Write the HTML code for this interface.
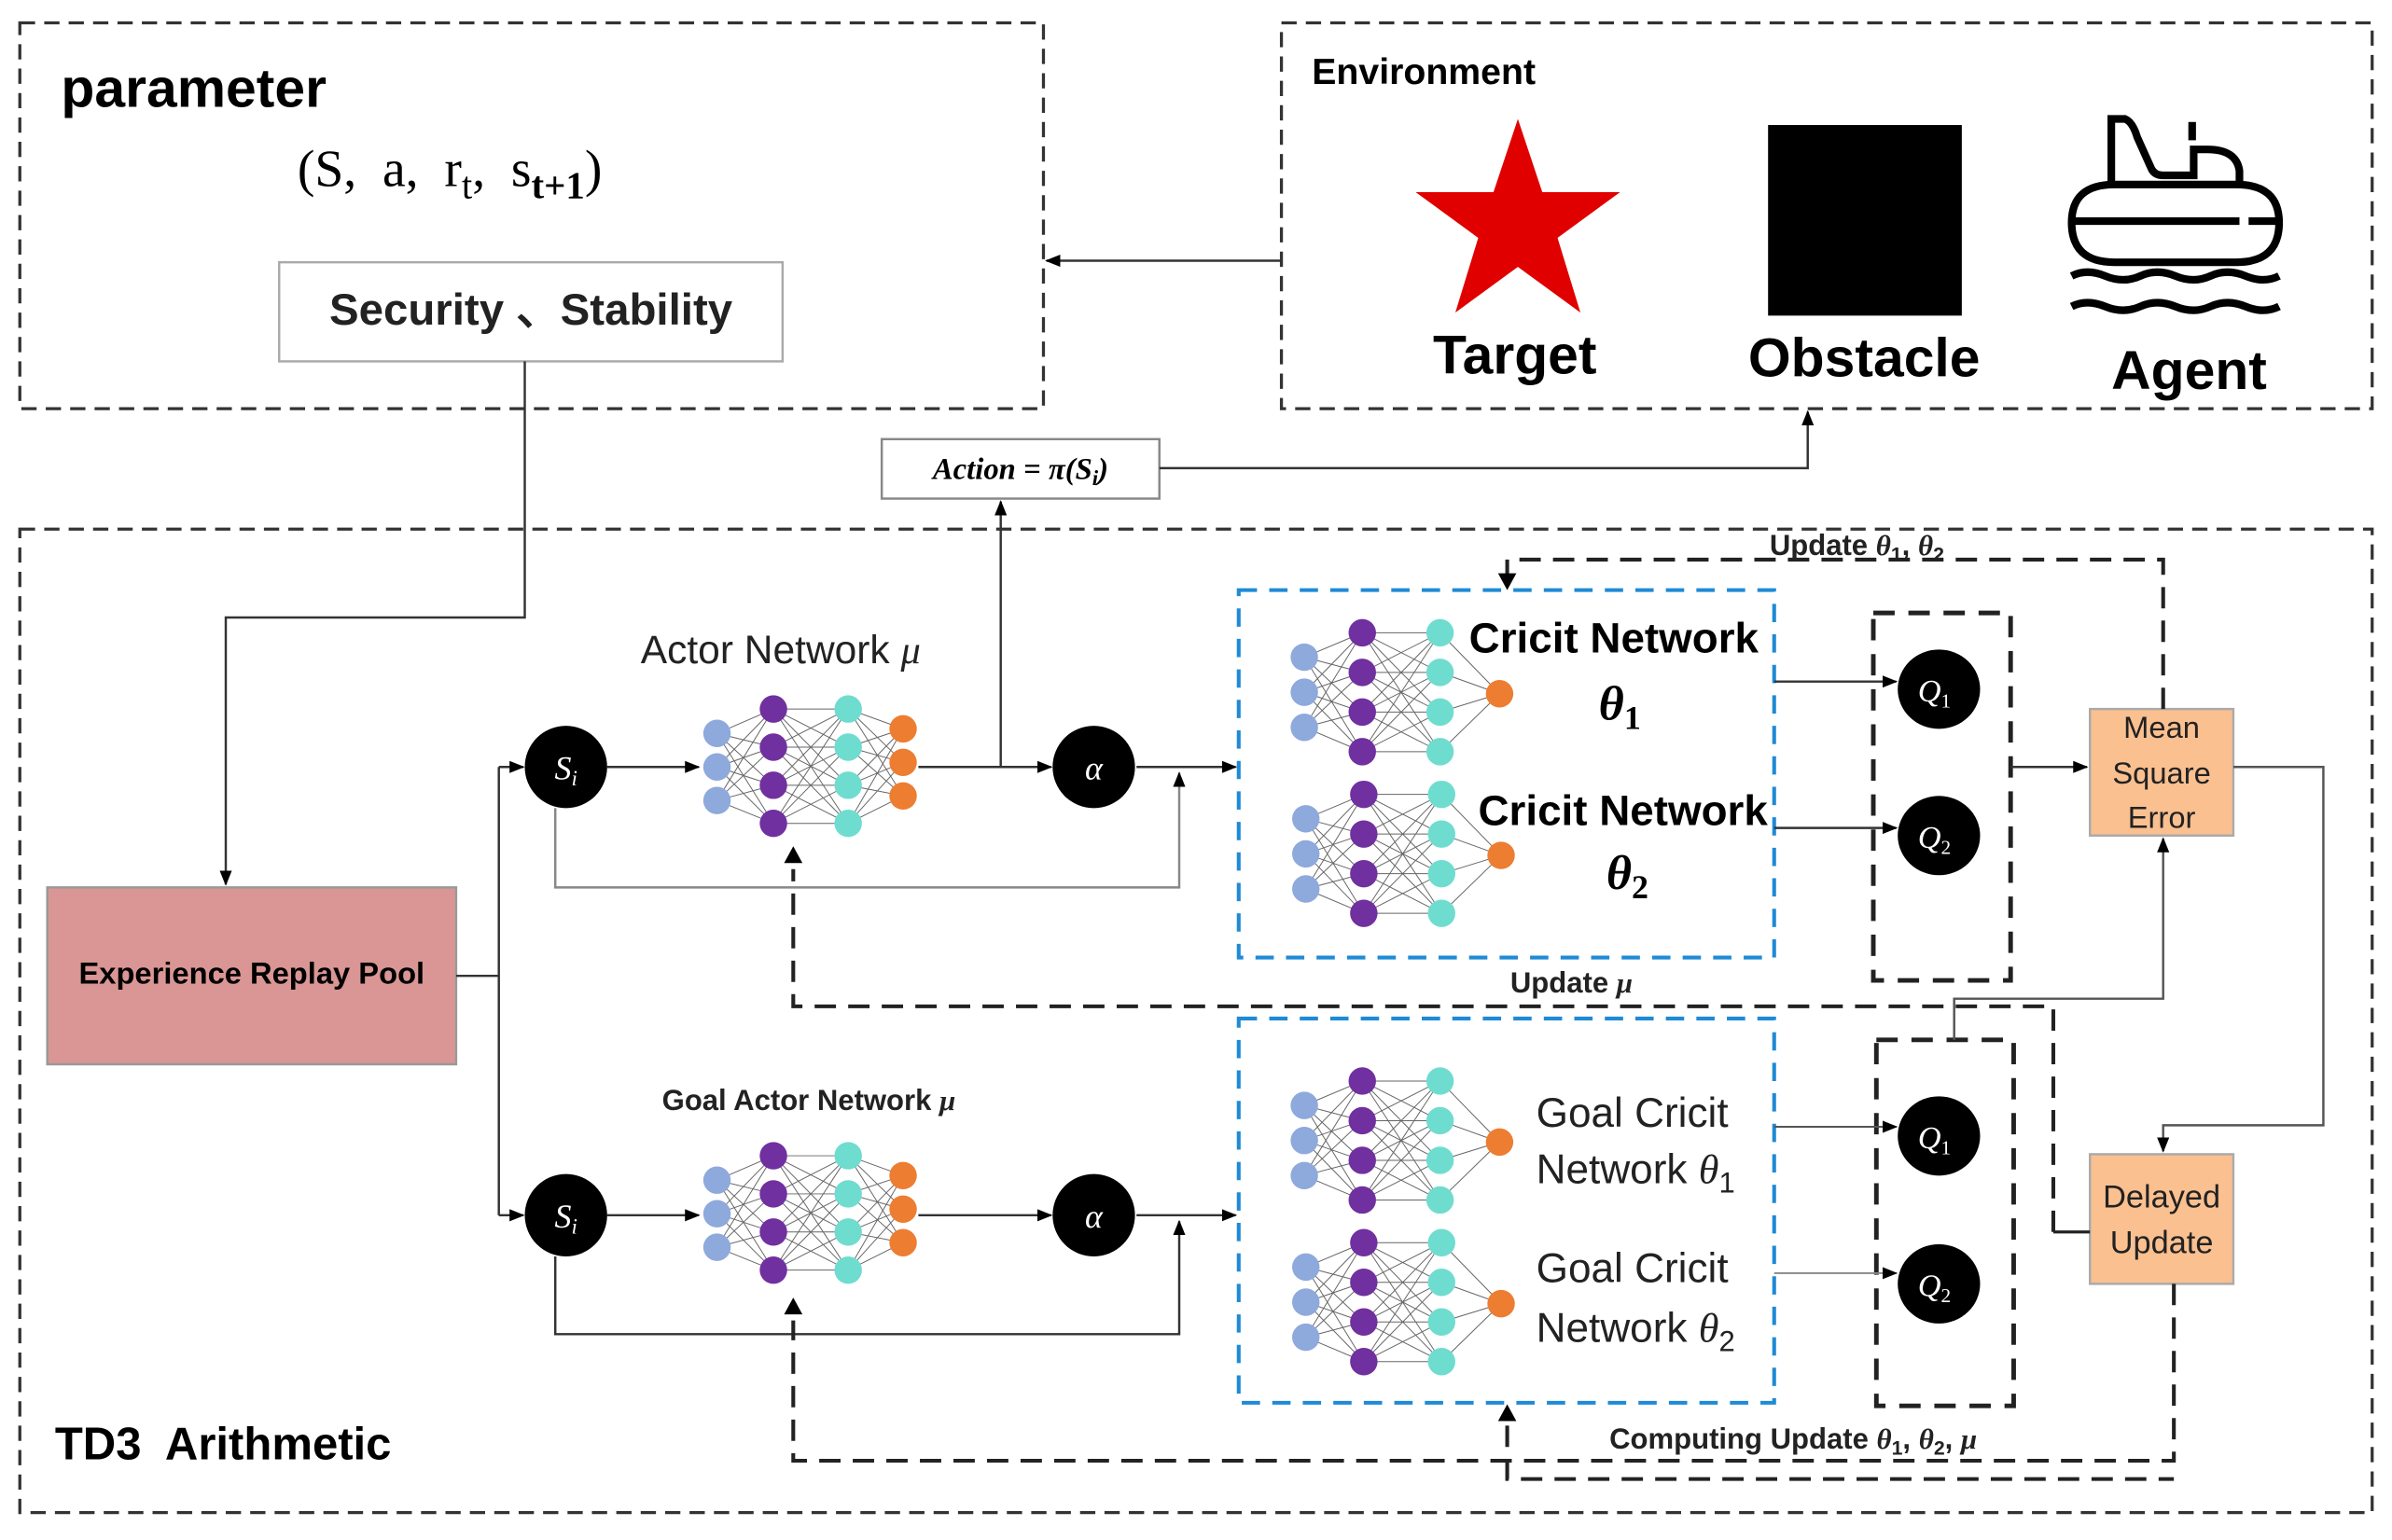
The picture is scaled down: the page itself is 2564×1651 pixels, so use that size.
<!DOCTYPE html>
<html><head><meta charset="utf-8"><style>
html,body{margin:0;padding:0;background:#fff;overflow:hidden}
svg{display:block;font-family:"Liberation Sans",sans-serif}
</style></head><body>
<svg width="2564" height="1651" viewBox="0 0 1568 1010" preserveAspectRatio="none" xmlns="http://www.w3.org/2000/svg">
<defs>
<marker id="ar" markerWidth="10" markerHeight="8" refX="9" refY="4" orient="auto" markerUnits="userSpaceOnUse"><path d="M0,0 L10,4 L0,8 z" fill="#000"/></marker>
<g id="crit">
 <g stroke="#666" stroke-width="0.6">
  <path d="M855,431L893,415M855,431L893,441M855,431L893,467M855,431L893,493M855,454L893,415M855,454L893,441M855,454L893,467M855,454L893,493M855,477L893,415M855,477L893,441M855,477L893,467M855,477L893,493"/>
  <path d="M893,415L944,415M893,415L944,441M893,415L944,467M893,415L944,493M893,441L944,415M893,441L944,441M893,441L944,467M893,441L944,493M893,467L944,415M893,467L944,441M893,467L944,467M893,467L944,493M893,493L944,415M893,493L944,441M893,493L944,467M893,493L944,493"/>
  <path d="M944,415L983,455M944,441L983,455M944,467L983,455M944,493L983,455"/>
 </g>
 <g fill="#8ea9db"><circle cx="855" cy="431" r="9"/><circle cx="855" cy="454" r="9"/><circle cx="855" cy="477" r="9"/></g>
 <g fill="#7030a0"><circle cx="893" cy="415" r="9"/><circle cx="893" cy="441" r="9"/><circle cx="893" cy="467" r="9"/><circle cx="893" cy="493" r="9"/></g>
 <g fill="#6fdcd0"><circle cx="944" cy="415" r="9"/><circle cx="944" cy="441" r="9"/><circle cx="944" cy="467" r="9"/><circle cx="944" cy="493" r="9"/></g>
 <circle cx="983" cy="455" r="9" fill="#ed7d31"/>
</g>
<g id="act">
 <g stroke="#666" stroke-width="0.6">
  <path d="M470,481L507,465M470,481L507,490M470,481L507,515M470,481L507,540M470,503L507,465M470,503L507,490M470,503L507,515M470,503L507,540M470,525L507,465M470,525L507,490M470,525L507,515M470,525L507,540"/>
  <path d="M507,465L556,465M507,465L556,490M507,465L556,515M507,465L556,540M507,490L556,465M507,490L556,490M507,490L556,515M507,490L556,540M507,515L556,465M507,515L556,490M507,515L556,515M507,515L556,540M507,540L556,465M507,540L556,490M507,540L556,515M507,540L556,540"/>
  <path d="M556,465L592,478M556,465L592,500M556,465L592,522M556,490L592,478M556,490L592,500M556,490L592,522M556,515L592,478M556,515L592,500M556,515L592,522M556,540L592,478M556,540L592,500M556,540L592,522"/>
 </g>
 <g fill="#8ea9db"><circle cx="470" cy="481" r="9"/><circle cx="470" cy="503" r="9"/><circle cx="470" cy="525" r="9"/></g>
 <g fill="#7030a0"><circle cx="507" cy="465" r="9"/><circle cx="507" cy="490" r="9"/><circle cx="507" cy="515" r="9"/><circle cx="507" cy="540" r="9"/></g>
 <g fill="#6fdcd0"><circle cx="556" cy="465" r="9"/><circle cx="556" cy="490" r="9"/><circle cx="556" cy="515" r="9"/><circle cx="556" cy="540" r="9"/></g>
 <g fill="#ed7d31"><circle cx="592" cy="478" r="9"/><circle cx="592" cy="500" r="9"/><circle cx="592" cy="522" r="9"/></g>
</g>
</defs>

<!-- parameter box -->
<rect x="13" y="15" width="671" height="253" fill="none" stroke="#333" stroke-width="2" stroke-dasharray="10,6"/>
<text x="40" y="70" font-size="36" font-weight="bold">parameter</text>
<text x="195" y="122" font-size="34" font-family="Liberation Serif,serif" xml:space="preserve">(S,  a,  r<tspan font-size="25" dy="8">t</tspan><tspan dy="-8">,  s</tspan><tspan font-size="25" dy="8" font-weight="bold">t+1</tspan><tspan dy="-8">)</tspan></text>
<rect x="183" y="172" width="330" height="65" fill="#fff" stroke="#aaa" stroke-width="1.5"/>
<text x="348" y="213" font-size="29" font-weight="bold" text-anchor="middle" fill="#222">Security 、Stability</text>

<!-- environment -->
<rect x="840" y="15" width="715" height="253" fill="none" stroke="#333" stroke-width="2" stroke-dasharray="10,6"/>
<text x="860" y="55" font-size="24" font-weight="bold">Environment</text>
<polygon points="995,78 1011,126 1062,126 1021,156 1036,205 995,175 954,205 969,156 928,126 979,126" fill="#e00000"/>
<rect x="1159" y="82" width="127" height="125" fill="#000"/>
<text x="993" y="245" font-size="36" font-weight="bold" text-anchor="middle">Target</text>
<text x="1222" y="247" font-size="36" font-weight="bold" text-anchor="middle">Obstacle</text>
<text x="1435" y="255" font-size="36" font-weight="bold" text-anchor="middle">Agent</text>
<g fill="none" stroke="#000" stroke-width="5">
 <path d="M1384,121 V78 H1393 Q1398,80 1401,90 L1410,110 Q1412,115 1418,115 H1438 V98 H1447 Q1466,98 1468,112 V121"/>
 <path d="M1437,80 V92"/>
 <path d="M1386,121 H1466 Q1494,121 1494,146 Q1494,172 1466,172 H1386 Q1358,172 1358,146 Q1358,121 1386,121 Z"/>
 <path d="M1360,145 H1468 M1474,145 H1492"/>
 <path d="M1358,181 Q1368,176 1380,181 T1403,181 T1426,181 T1449,181 T1472,181 T1494,181"/>
 <path d="M1358,201 Q1368,196 1380,201 T1403,201 T1426,201 T1449,201 T1472,201 T1494,201"/>
</g>
<line x1="840" y1="171" x2="686" y2="171" stroke="#333" stroke-width="1.5" marker-end="url(#ar)"/>

<!-- action -->
<rect x="578" y="288" width="182" height="39" fill="#fff" stroke="#888" stroke-width="1.5"/>
<text x="669" y="314" font-size="20" font-weight="bold" font-style="italic" text-anchor="middle" font-family="Liberation Serif,serif">Action = π(S<tspan font-size="14" dy="4">i</tspan><tspan dy="-4">)</tspan></text>
<polyline points="760,307 1185,307 1185,270" fill="none" stroke="#333" stroke-width="1.5" marker-end="url(#ar)"/>
<line x1="656" y1="503" x2="656" y2="329" stroke="#333" stroke-width="1.5" marker-end="url(#ar)"/>

<!-- TD3 box -->
<rect x="13" y="347" width="1542" height="645" fill="none" stroke="#333" stroke-width="2" stroke-dasharray="10,6"/>
<text x="36" y="957" font-size="30" font-weight="bold" xml:space="preserve">TD3  Arithmetic</text>

<polyline points="344,237 344,405 148,405 148,580" fill="none" stroke="#333" stroke-width="1.5" marker-end="url(#ar)"/>
<rect x="31" y="582" width="268" height="116" fill="#d99694" stroke="#999" stroke-width="1.5"/>
<text x="165" y="645" font-size="20" font-weight="bold" text-anchor="middle">Experience Replay Pool</text>
<polyline points="299,640 327,640" fill="none" stroke="#333" stroke-width="1.5"/>
<line x1="327" y1="503" x2="327" y2="797" stroke="#333" stroke-width="1.5"/>
<line x1="327" y1="503" x2="343" y2="503" stroke="#333" stroke-width="1.5" marker-end="url(#ar)"/>
<line x1="327" y1="797" x2="343" y2="797" stroke="#333" stroke-width="1.5" marker-end="url(#ar)"/>

<!-- actor row -->
<text x="420" y="435" font-size="26" fill="#222">Actor Network <tspan font-style="italic" font-family="Liberation Serif,serif">μ</tspan></text>
<use href="#act"/>
<line x1="398" y1="503" x2="458" y2="503" stroke="#333" stroke-width="1.5" marker-end="url(#ar)"/>
<line x1="602" y1="503" x2="689" y2="503" stroke="#333" stroke-width="1.5" marker-end="url(#ar)"/>
<line x1="745" y1="503" x2="810" y2="503" stroke="#333" stroke-width="1.5" marker-end="url(#ar)"/>
<polyline points="364,530 364,582 773,582 773,507" fill="none" stroke="#888" stroke-width="1.5" marker-end="url(#ar)"/>
<circle cx="371" cy="503" r="27" fill="#000"/><text x="371" y="511" font-size="22" fill="#fff" text-anchor="middle" font-style="italic" font-family="Liberation Serif,serif">S<tspan font-size="14" dy="4">i</tspan></text>
<circle cx="717" cy="503" r="27" fill="#000"/><text x="717" y="511" font-size="22" fill="#fff" text-anchor="middle" font-style="italic" font-family="Liberation Serif,serif">α</text>

<!-- goal actor row -->
<text x="434" y="728" font-size="19" font-weight="bold" fill="#222">Goal Actor Network <tspan font-style="italic" font-family="Liberation Serif,serif">μ</tspan></text>
<use href="#act" transform="translate(0,293)"/>
<line x1="398" y1="797" x2="458" y2="797" stroke="#333" stroke-width="1.5" marker-end="url(#ar)"/>
<line x1="602" y1="797" x2="689" y2="797" stroke="#333" stroke-width="1.5" marker-end="url(#ar)"/>
<line x1="745" y1="797" x2="810" y2="797" stroke="#333" stroke-width="1.5" marker-end="url(#ar)"/>
<polyline points="364,824 364,875 773,875 773,801" fill="none" stroke="#333" stroke-width="1.5" marker-end="url(#ar)"/>
<circle cx="371" cy="797" r="27" fill="#000"/><text x="371" y="805" font-size="22" fill="#fff" text-anchor="middle" font-style="italic" font-family="Liberation Serif,serif">S<tspan font-size="14" dy="4">i</tspan></text>
<circle cx="717" cy="797" r="27" fill="#000"/><text x="717" y="805" font-size="22" fill="#fff" text-anchor="middle" font-style="italic" font-family="Liberation Serif,serif">α</text>

<!-- critic boxes -->
<rect x="812" y="387" width="351" height="241" fill="none" stroke="#1f8ad6" stroke-width="2.5" stroke-dasharray="12,8"/>
<rect x="812" y="668" width="351" height="252" fill="none" stroke="#1f8ad6" stroke-width="2.5" stroke-dasharray="12,8"/>
<use href="#crit"/>
<use href="#crit" transform="translate(1,106)"/>
<use href="#crit" transform="translate(0,294)"/>
<use href="#crit" transform="translate(1,400)"/>
<text x="963" y="428" font-size="28" font-weight="bold">Cricit Network</text>
<text x="1048" y="472" font-size="32" font-weight="bold" font-style="italic" font-family="Liberation Serif,serif">θ<tspan font-size="22" dy="6" font-style="normal">1</tspan></text>
<text x="969" y="541" font-size="28" font-weight="bold">Cricit Network</text>
<text x="1053" y="583" font-size="32" font-weight="bold" font-style="italic" font-family="Liberation Serif,serif">θ<tspan font-size="22" dy="6" font-style="normal">2</tspan></text>
<text x="1007" y="739" font-size="27" fill="#222">Goal Cricit</text>
<text x="1007" y="776" font-size="27" fill="#222">Network <tspan font-style="italic" font-family="Liberation Serif,serif">θ</tspan><tspan font-size="19" dy="6">1</tspan></text>
<text x="1007" y="841" font-size="27" fill="#222">Goal Cricit</text>
<text x="1007" y="880" font-size="27" fill="#222">Network <tspan font-style="italic" font-family="Liberation Serif,serif">θ</tspan><tspan font-size="19" dy="6">2</tspan></text>

<!-- Q boxes -->
<rect x="1228" y="402" width="90" height="241" fill="none" stroke="#222" stroke-width="3" stroke-dasharray="14,9"/>
<rect x="1230" y="682" width="90" height="240" fill="none" stroke="#222" stroke-width="3" stroke-dasharray="14,9"/>
<line x1="1163" y1="447" x2="1243" y2="447" stroke="#333" stroke-width="1.5" marker-end="url(#ar)"/>
<line x1="1163" y1="543" x2="1243" y2="543" stroke="#333" stroke-width="1.5" marker-end="url(#ar)"/>
<line x1="1163" y1="739" x2="1243" y2="739" stroke="#555" stroke-width="1.2" marker-end="url(#ar)"/>
<line x1="1163" y1="835" x2="1243" y2="835" stroke="#888" stroke-width="1.2" marker-end="url(#ar)"/>
<g fill="#000"><ellipse cx="1271" cy="452" rx="27" ry="26"/><ellipse cx="1271" cy="548" rx="27" ry="26"/><ellipse cx="1271" cy="745" rx="27" ry="26"/><ellipse cx="1271" cy="842" rx="27" ry="26"/></g>
<g fill="#fff" font-size="21" font-style="italic" text-anchor="middle" font-family="Liberation Serif,serif">
<text x="1268" y="460">Q<tspan font-size="13" dy="4" font-style="normal">1</tspan></text>
<text x="1268" y="556">Q<tspan font-size="13" dy="4" font-style="normal">2</tspan></text>
<text x="1268" y="753">Q<tspan font-size="13" dy="4" font-style="normal">1</tspan></text>
<text x="1268" y="850">Q<tspan font-size="13" dy="4" font-style="normal">2</tspan></text>
</g>

<!-- MSE / delayed -->
<rect x="1370" y="465" width="94" height="83" fill="#fac090" stroke="#aaa" stroke-width="1.5"/>
<g font-size="20" text-anchor="middle" fill="#222"><text x="1417" y="484">Mean</text><text x="1417" y="514">Square</text><text x="1417" y="543">Error</text></g>
<rect x="1370" y="757" width="94" height="85" fill="#fac090" stroke="#aaa" stroke-width="1.5"/>
<g font-size="21" text-anchor="middle" fill="#222"><text x="1417" y="792">Delayed</text><text x="1417" y="822">Update</text></g>
<line x1="1318" y1="503" x2="1368" y2="503" stroke="#333" stroke-width="1.5" marker-end="url(#ar)"/>
<polyline points="1464,503 1523,503 1523,738 1418,738 1418,755" fill="none" stroke="#555" stroke-width="1.5" marker-end="url(#ar)"/>
<polyline points="1281,682 1281,655 1418,655 1418,550" fill="none" stroke="#555" stroke-width="1.5" marker-end="url(#ar)"/>
<line x1="1346" y1="808" x2="1370" y2="808" stroke="#222" stroke-width="2"/>

<!-- dashed update loops -->
<g fill="none" stroke="#222" stroke-width="2.5" stroke-dasharray="14,8">
 <polyline points="1418,465 1418,367 988,367 988,378"/>
 <polyline points="1346,808 1346,660 520,660 520,570"/>
 <polyline points="1425,842 1425,958 520,958 520,866"/>
 <polyline points="988,935 988,970 1425,970"/>
</g>
<path d="M982,376 L988,387 L994,376 Z" fill="#000"/>
<path d="M514,566 L520,555 L526,566 Z" fill="#000"/>
<path d="M514,862 L520,851 L526,862 Z" fill="#000"/>
<path d="M982,932 L988,921 L994,932 Z" fill="#000"/>
<text x="1160" y="364" font-size="19" font-weight="bold" fill="#222">Update <tspan font-style="italic" font-family="Liberation Serif,serif">θ</tspan><tspan font-size="13" dy="4">1</tspan><tspan dy="-4">, </tspan><tspan font-style="italic" font-family="Liberation Serif,serif">θ</tspan><tspan font-size="13" dy="4">2</tspan></text>
<text x="990" y="651" font-size="19" font-weight="bold" fill="#222">Update  <tspan font-style="italic" font-family="Liberation Serif,serif">μ</tspan></text>
<text x="1055" y="950" font-size="19" font-weight="bold" fill="#222">Computing Update <tspan font-style="italic" font-family="Liberation Serif,serif">θ</tspan><tspan font-size="13" dy="4">1</tspan><tspan dy="-4">, </tspan><tspan font-style="italic" font-family="Liberation Serif,serif">θ</tspan><tspan font-size="13" dy="4">2</tspan><tspan dy="-4">, </tspan><tspan font-style="italic" font-family="Liberation Serif,serif">μ</tspan></text>
</svg>
</body></html>
